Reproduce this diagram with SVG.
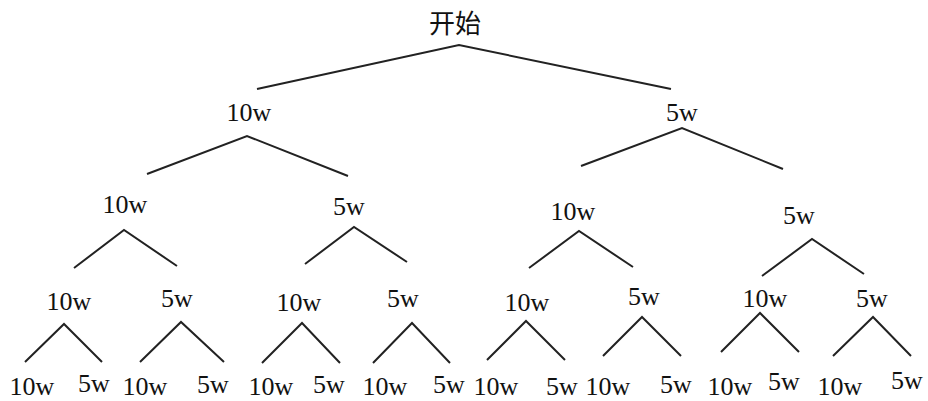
<svg xmlns="http://www.w3.org/2000/svg" width="928" height="401" viewBox="0 0 928 401">
<style>
.bg{fill:#ffffff}
.t{font-family:"Liberation Serif","Times New Roman",serif;font-size:26px;fill:#111;text-anchor:middle}
.c{font-family:"Noto Sans CJK SC","Noto Sans",sans-serif;font-size:26px;fill:#111;text-anchor:middle}
.e{fill:none;stroke:#222;stroke-width:2;stroke-linejoin:miter}
</style>
<rect class="bg" x="0" y="0" width="928" height="401"/>
<g id="connectors">
<polyline class="e" points="257,89 459,45 671,89"/>
<polyline class="e" points="147,174 247,136 348,176"/>
<polyline class="e" points="581,166 682,128 783,169"/>
<polyline class="e" points="74,268 124,230 177,266"/>
<polyline class="e" points="305,264 354,227 407,262"/>
<polyline class="e" points="529,268 579,231 633,267"/>
<polyline class="e" points="762,276 812,239 864,274"/>
<polyline class="e" points="25,362 64,324 102,362"/>
<polyline class="e" points="140,362 181,322 224,362"/>
<polyline class="e" points="262,363 302,323 340,363"/>
<polyline class="e" points="373,363 412,323 450,363"/>
<polyline class="e" points="487,360 526,321 565,360"/>
<polyline class="e" points="603,356 642,317 681,356"/>
<polyline class="e" points="721,352 760,313 799,352"/>
<polyline class="e" points="833,356 873,317 911,356"/>
</g>
<g id="n0"><text class="c" x="455" y="33">开始</text></g>
<g id="n1"><text class="t" x="249" y="121">10w</text></g>
<g id="n2"><text class="t" x="682" y="121">5w</text></g>
<g id="n3"><text class="t" x="125" y="213">10w</text></g>
<g id="n4"><text class="t" x="349" y="215">5w</text></g>
<g id="n5"><text class="t" x="573" y="220">10w</text></g>
<g id="n6"><text class="t" x="799" y="224">5w</text></g>
<g id="n7"><text class="t" x="69" y="310">10w</text></g>
<g id="n8"><text class="t" x="177" y="307">5w</text></g>
<g id="n9"><text class="t" x="299" y="311">10w</text></g>
<g id="n10"><text class="t" x="403" y="307">5w</text></g>
<g id="n11"><text class="t" x="527" y="311">10w</text></g>
<g id="n12"><text class="t" x="644" y="305">5w</text></g>
<g id="n13"><text class="t" x="765" y="307">10w</text></g>
<g id="n14"><text class="t" x="872" y="307">5w</text></g>
<g id="n15"><text class="t" x="32" y="395">10w</text></g>
<g id="n16"><text class="t" x="94" y="392">5w</text></g>
<g id="n17"><text class="t" x="145" y="395">10w</text></g>
<g id="n18"><text class="t" x="213" y="393">5w</text></g>
<g id="n19"><text class="t" x="271" y="395">10w</text></g>
<g id="n20"><text class="t" x="329" y="393">5w</text></g>
<g id="n21"><text class="t" x="385" y="395">10w</text></g>
<g id="n22"><text class="t" x="449" y="393">5w</text></g>
<g id="n23"><text class="t" x="496" y="395">10w</text></g>
<g id="n24"><text class="t" x="562" y="395">5w</text></g>
<g id="n25"><text class="t" x="608" y="395">10w</text></g>
<g id="n26"><text class="t" x="676" y="393">5w</text></g>
<g id="n27"><text class="t" x="730" y="395">10w</text></g>
<g id="n28"><text class="t" x="784" y="390">5w</text></g>
<g id="n29"><text class="t" x="840" y="395">10w</text></g>
<g id="n30"><text class="t" x="907" y="389">5w</text></g>
</svg>
